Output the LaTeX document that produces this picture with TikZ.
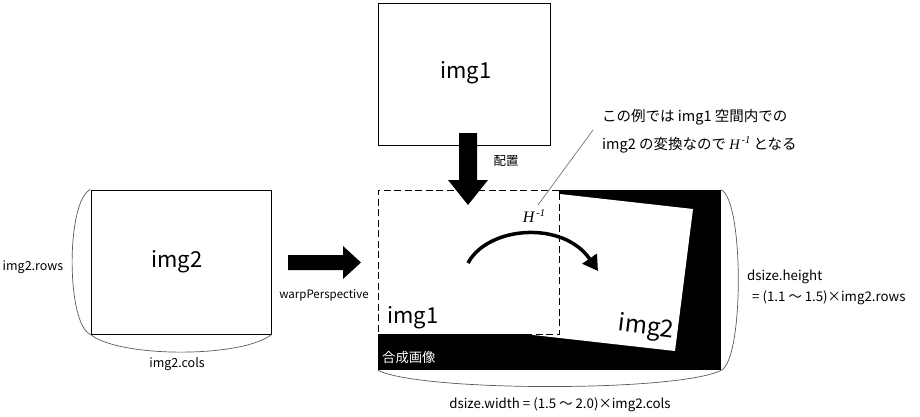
\documentclass[tikz,border=0pt]{standalone}
\usepackage{fontspec}
\setmainfont{Noto Sans CJK JP}
\newfontfamily\hfont{Liberation Serif}
\usetikzlibrary{arrows.meta}
\newcommand{\Hinv}{{\hfont\itshape H\raisebox{0.42em}{\fontsize{10.5}{10.5}\selectfont\,-1}}}
\begin{document}
\begin{tikzpicture}[x=1pt,y=-1pt,
  box/.style={draw, line width=1pt, rectangle, inner sep=0pt},
  big/.style={font=\fontsize{22}{26}\selectfont, inner sep=0pt},
  lbl/.style={font=\fontsize{12.5}{15}\selectfont, inner sep=0pt},
  dlbl/.style={font=\fontsize{13.3}{16}\selectfont, inner sep=0pt},
  ann/.style={font=\fontsize{14.5}{17}\selectfont, inner sep=0pt},
  brace/.style={draw=black!65, line width=0.7pt},
  leader/.style={draw=black!60, line width=0.6pt},
  block/.style={fill=black}]
\useasboundingbox (0,0) rectangle (920,416);

% top img1
\node[box, minimum width=172pt, minimum height=142pt] (img1box) at (464,74) {};
\node[big] (img1t) at (466,73) {img1};

% left img2
\node[box, minimum width=180pt, minimum height=144pt] (img2box) at (181,262) {};
\node[big] (img2t) at (177,262) {img2};

% composite region
\node[fill=black, inner sep=0pt, minimum width=343pt, minimum height=180pt] (comp) at (549.5,280) {};
\fill[white] (520,189.5) -- (693,209) -- (675,351) -- (520,333.5) -- cycle;
\node[font=\fontsize{24}{28}\selectfont, inner sep=0pt, rotate=-7] (img2w) at (646,328) {img2};
\node[draw, dashed, dash pattern=on 7pt off 3.5pt, line width=0.9pt, fill=white, inner sep=0pt,
      minimum width=181pt, minimum height=144pt] (img1in) at (468.5,262) {};
\node[big] (img1w) at (413,318) {img1};
\node[dlbl, anchor=west, text=white] (gousei) at (382,357) {合成画像};

% block arrows
\fill[black] (459,133) -- (477,133) -- (477,180) -- (488,180) -- (468,205) -- (448,180) -- (459,180) -- cycle;
\node[lbl] (haichi) at (506,161) {配置};
\fill[black] (288,255) -- (343,255) -- (343,246) -- (361,262.5) -- (343,279) -- (343,270) -- (288,270) -- cycle;
\node[font=\fontsize{11.5}{14}\selectfont, inner sep=0pt] (warp) at (324,295) {warpPerspective};

% curved arrow
\coordinate (cs) at (468,263);
\coordinate (ce) at (598,271);
\draw[line width=3.5pt, -{Triangle[length=15pt,width=17pt]}] (cs) .. controls (488,226) and (563,220) .. (ce);

% H^-1 label and leader
\node[font=\fontsize{16}{18}\selectfont, inner sep=0pt] (hl) at (534,216) {\Hinv};
\coordinate (l1) at (538,205);
\coordinate (l2) at (593,130);
\draw[leader] (l1) -- (l2);
\node[ann, anchor=west] (a1) at (602,117) {この例では img1 空間内での};
\node[ann, anchor=west] (a2) at (602,145) {img2 の変換なので \Hinv{} となる};

% braces img2
\draw[brace] (img2box.north west) .. controls (66,200) and (66,324) .. (img2box.south west);
\draw[brace] (img2box.south west) .. controls (120,358) and (242,358) .. (img2box.south east);
\node[lbl] (rows) at (33,267) {img2.rows};
\node[lbl] (cols) at (177,364) {img2.cols};

% braces composite
\draw[brace] (comp.north east) .. controls (744,200) and (744,360) .. (comp.south east);
\draw[brace] (comp.south west) .. controls (420,392) and (680,392) .. (comp.south east);
\node[dlbl, anchor=west] (dh1) at (747,277) {dsize.height};
\node[dlbl, anchor=west] (dh2) at (752,298) {= (1.1 〜 1.5)×img2.rows};
\node[dlbl] (dw) at (560,405) {dsize.width = (1.5 〜 2.0)×img2.cols};
\end{tikzpicture}
\end{document}
